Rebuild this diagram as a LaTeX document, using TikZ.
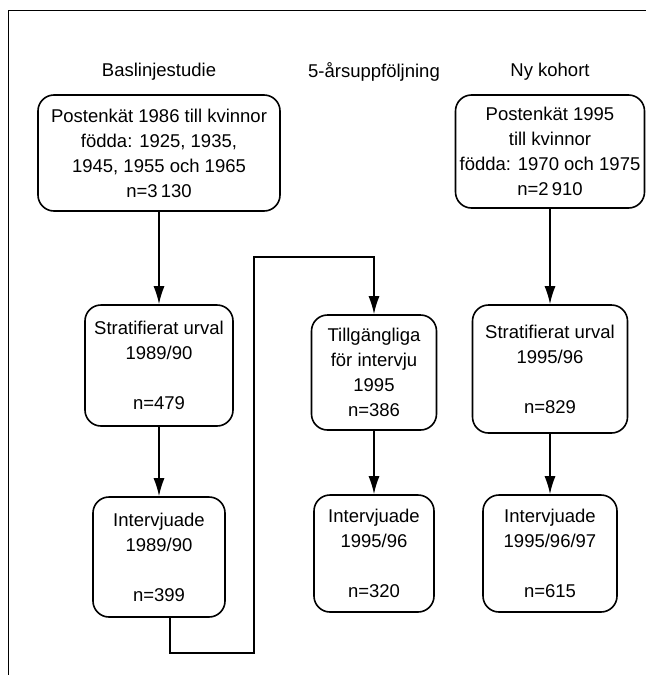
\documentclass[tikz,border=0pt]{standalone}
\usepackage{fontspec}
\setmainfont{Liberation Sans}
\usetikzlibrary{arrows.meta}

\tikzset{
	box/.style={draw, line width=1.6pt, rounded corners=16pt, align=center, inner sep=0pt},
	flow/.style={line width=1.6pt, -{Latex[length=18pt,width=11pt]}}
}

\begin{document}
\begin{tikzpicture}[x=1pt, y=-1pt, font=\fontsize{18.5}{25}\selectfont]
	\useasboundingbox (0,0) rectangle (646,675);
	\draw[line width=0.9pt] (8,675) -- (8,10) -- (646,10);

	\node (headA) at (159,72) {Baslinjestudie};
	\node (headB) at (374,72) {5-årsuppföljning};
	\node (headC) at (550,72) {Ny kohort};

	\node[box, minimum width=242pt, minimum height=116pt] (a1) at (159,153) {Postenkät 1986 till kvinnor\\födda: 1925, 1935,\\1945, 1955 och 1965\\n=3\,130};
	\node[box, minimum width=148pt, minimum height=121pt] (a2) at (159,365.5) {Stratifierat urval\\1989/90\\[25pt]n=479};
	\node[box, minimum width=132pt, minimum height=120pt] (a3) at (159,557) {Intervjuade\\1989/90\\[25pt]n=399};

	\node[box, minimum width=125pt, minimum height=115pt] (b1) at (374,372.5) {Tillgängliga\\för intervju\\1995\\n=386};
	\node[box, minimum width=120pt, minimum height=117pt] (b2) at (374,553.5) {Intervjuade\\1995/96\\[25pt]n=320};

	\node[box, minimum width=189pt, minimum height=113pt] (c1) at (550,151.5) {Postenkät 1995\\till kvinnor\\födda: 1970 och 1975\\n=2\,910};
	\node[box, minimum width=155pt, minimum height=128pt] (c2) at (550,369) {Stratifierat urval\\1995/96\\[25pt]n=829};
	\node[box, minimum width=134pt, minimum height=117pt] (c3) at (550,553.5) {Intervjuade\\1995/96/97\\[25pt]n=615};

	\draw[flow] (a1) -- (a2);
	\draw[flow] (a2) -- (a3);
	\draw[flow] (b1) -- (b2);
	\draw[flow] (c1) -- (c2);
	\draw[flow] (c2) -- (c3);

	% from the first interviews over to the follow-up
	\coordinate (turn) at (254,257);
	\draw[flow] ([xshift=11pt]a3.south) -- ++(0,35) -| (turn) -| (b1.north);
\end{tikzpicture}
\end{document}
